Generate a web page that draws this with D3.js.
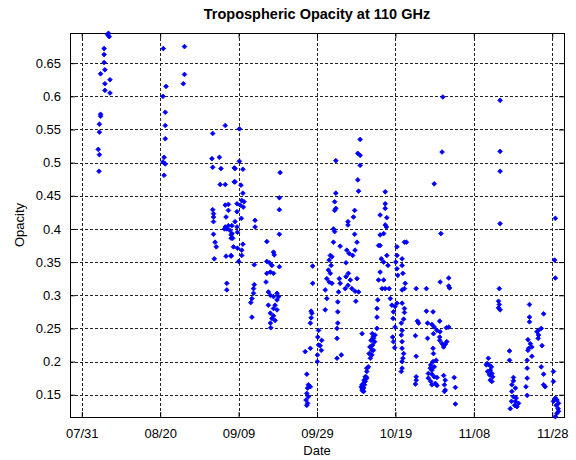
<!DOCTYPE html>
<html>
<head>
<meta charset="utf-8">
<script src="https://cdn.jsdelivr.net/npm/d3@7"></script>
<style>
  body { margin: 0; background: #fff; }
  text { font-family: Arial, "Liberation Sans", sans-serif; fill: #000; }
</style>
</head>
<body>
<div id="viz"></div>
<script>
// tick labels on the date axis and opacity axis
var xTickLabels = ["07/31", "08/20", "09/09", "09/29", "10/19", "11/08", "11/28"];
var yTicks = [0.15, 0.2, 0.25, 0.3, 0.35, 0.4, 0.45, 0.5, 0.55, 0.6, 0.65];

// days after 07/31 for each sample
var dayOffset = [
  6.6, 6.8, 7.0, 5.7, 5.7, 5.7, 4.8, 5.9, 5.9, 7.2, 5.9, 7.2, 4.8, 4.8, 4.5, 4.5, 4.2, 4.5, 4.4,
  20.8, 26.2, 26.2, 25.9, 21.5, 20.7, 21.3, 21.3, 21.3, 21.0, 20.7, 21.3, 21.0,
  36.6, 33.4, 33.2, 35.1, 33.4, 35.5, 38.9, 35.3, 36.6, 38.9, 36.6, 37.4, 33.4, 33.6, 33.6, 33.6,
  36.8, 37.4, 36.6, 37.0, 37.4, 37.8, 36.4, 38.1, 38.1, 33.6, 34.0, 34.3, 33.8, 36.8, 38.1, 38.7,
  37.0, 37.0,
  40.2, 40.2, 39.1, 41.1, 39.1, 40.6, 41.1, 39.6, 40.8, 41.4, 41.2, 40.4, 39.6, 40.7, 39.1, 39.6,
  39.7, 38.3, 38.3, 38.5, 41.1, 40.8, 40.8, 39.7, 40.0, 38.1, 44.2, 44.2, 50.6, 50.4, 50.4, 50.4,
  47.2, 48.9, 49.1, 47.2, 47.9, 48.5, 48.1, 48.9, 47.2, 50.4, 44.0, 47.0, 44.0, 43.8, 43.8, 43.4,
  43.1, 43.4, 47.6, 48.1, 48.9, 49.8, 50.2, 49.8, 49.3, 47.6, 48.9, 49.8, 48.1, 48.9, 48.5, 49.3,
  48.1, 48.2, 58.9, 58.9, 58.5, 58.7, 58.5, 58.3, 57.0, 58.3, 57.4, 57.8, 57.6, 58.3, 57.4, 57.8,
  57.2, 57.6, 57.4, 60.4, 60.2, 60.4, 60.1, 60.1,
  71.0, 70.4, 71.0, 71.0, 70.4, 70.6, 64.8, 64.8, 64.5, 64.8, 64.5, 64.2, 64.5, 64.2, 65.9, 67.9,
  67.9, 69.6, 69.3, 69.6, 67.6, 68.2, 70.2, 69.7, 69.1, 67.4, 63.4, 63.8, 63.1, 63.6, 62.9, 63.4,
  62.5, 63.1, 63.8, 65.7, 65.9, 68.0, 67.4, 68.5, 67.9, 68.9, 67.2, 70.2, 69.7, 70.6, 62.1, 62.5,
  62.1, 65.5, 65.3, 65.3, 65.3, 65.1, 65.1, 69.9, 71.5, 66.2, 65.1, 61.2, 60.8, 61.1,
  75.3, 74.8, 74.7, 74.2, 74.4, 74.0, 73.6, 74.4, 73.6, 74.1, 73.8, 73.5, 74.3, 73.3, 74.0,
  73.1, 72.7, 72.5, 72.3, 72.1, 71.9, 71.5, 71.9, 71.5, 72.7, 72.0, 72.7, 72.3, 71.9, 71.5, 71.8, 71.3,
  77.4, 77.4, 77.4, 76.1, 77.8, 77.4, 77.7, 76.1, 77.0, 76.1, 75.7, 76.4, 77.0, 77.8, 78.1, 76.1,
  75.7, 77.0, 76.6, 77.4, 75.5, 75.3, 75.3, 78.4, 78.7, 79.1, 79.5, 79.9, 80.4, 79.4, 79.9, 79.3,
  79.5, 79.8, 80.4, 80.4, 80.1, 80.4, 80.6, 82.3,
  92.1, 91.9, 89.9, 91.6, 82.8, 81.7, 81.7, 81.9, 82.5, 82.3, 81.7, 81.7, 82.3, 82.3, 82.1, 81.5,
  81.7, 81.5, 81.7, 81.7, 82.1, 81.9, 81.7, 81.7, 81.5, 85.3, 87.9, 91.4, 93.6, 93.6, 93.8, 87.9,
  89.6, 85.6, 85.9, 88.2, 89.3, 91.3, 89.9, 93.0, 93.6, 85.1, 88.2, 89.7, 90.6, 91.4, 91.3, 91.3,
  91.9, 92.7, 92.3, 93.1, 89.6, 89.7, 85.3, 90.4, 89.6, 89.0, 88.9, 89.3, 89.9, 88.4, 89.3, 89.9,
  90.6, 88.4, 89.0, 90.2, 89.3, 90.6, 85.3, 85.3, 85.1, 92.3, 92.7, 92.5, 92.7, 92.5, 95.0, 95.3,
  95.3, 103.7, 103.2, 103.5, 104.0, 104.2,
  106.7, 106.7, 106.7, 106.7, 106.5, 106.3, 106.5, 106.3, 106.7, 120.8, 120.6, 120.8, 114.2, 114.2,
  114.2, 117.8, 116.5, 116.1, 116.5, 116.4, 117.2, 113.8, 114.4, 114.0, 114.8, 113.8, 114.8, 117.4,
  109.1, 109.1, 103.4, 103.9, 104.5, 104.2, 104.6, 104.8, 104.6, 110.1, 110.1, 109.7, 110.6, 109.7,
  110.1, 109.6, 110.6, 111.0, 109.3, 110.4, 111.4, 110.8, 113.6, 113.6, 113.6, 113.3, 113.6, 117.2,
  117.8, 117.8, 118.2, 120.3, 120.3, 120.8, 121.2, 121.6, 121.5, 121.2, 120.8, 120.3, 121.6, 121.0
];

// measured opacity for each sample
var opacity = [
  0.693, 0.695, 0.690, 0.672, 0.663, 0.651, 0.634, 0.640, 0.619, 0.625, 0.609, 0.605, 0.573, 0.570, 0.558, 0.546, 0.520, 0.512, 0.487,
  0.672, 0.675, 0.633, 0.619, 0.615, 0.600, 0.576, 0.556, 0.536, 0.508, 0.501, 0.498, 0.481,
  0.556, 0.544, 0.506, 0.508, 0.493, 0.491, 0.492, 0.467, 0.467, 0.471, 0.436, 0.437, 0.429, 0.423, 0.418, 0.411,
  0.418, 0.428, 0.403, 0.400, 0.405, 0.398, 0.400, 0.391, 0.386, 0.392, 0.380, 0.373, 0.355, 0.359, 0.359, 0.373,
  0.318, 0.308,
  0.551, 0.502, 0.491, 0.490, 0.471, 0.466, 0.454, 0.438, 0.443, 0.441, 0.433, 0.436, 0.426, 0.416, 0.411, 0.403,
  0.395, 0.405, 0.393, 0.386, 0.377, 0.368, 0.360, 0.371, 0.351, 0.360, 0.413, 0.403, 0.485, 0.447, 0.429, 0.392,
  0.381, 0.365, 0.361, 0.351, 0.349, 0.345, 0.335, 0.333, 0.333, 0.343, 0.346, 0.320, 0.316, 0.310, 0.303, 0.295,
  0.289, 0.267, 0.305, 0.300, 0.298, 0.303, 0.298, 0.293, 0.285, 0.285, 0.280, 0.278, 0.273, 0.269, 0.265, 0.262,
  0.258, 0.251, 0.344, 0.318, 0.276, 0.273, 0.266, 0.258, 0.215, 0.220, 0.181, 0.165, 0.160, 0.162, 0.152, 0.147,
  0.142, 0.137, 0.134, 0.247, 0.237, 0.225, 0.210, 0.200,
  0.535, 0.514, 0.511, 0.496, 0.474, 0.457, 0.503, 0.454, 0.441, 0.431, 0.428, 0.400, 0.396, 0.380, 0.374, 0.411,
  0.406, 0.428, 0.418, 0.392, 0.368, 0.363, 0.380, 0.368, 0.360, 0.349, 0.360, 0.358, 0.353, 0.345, 0.338, 0.333,
  0.325, 0.320, 0.318, 0.325, 0.318, 0.333, 0.328, 0.323, 0.315, 0.310, 0.310, 0.325, 0.306, 0.305, 0.308, 0.295,
  0.278, 0.305, 0.290, 0.275, 0.258, 0.250, 0.235, 0.291, 0.242, 0.210, 0.205, 0.232, 0.224, 0.217,
  0.250, 0.240, 0.230, 0.225, 0.217, 0.210, 0.205, 0.235, 0.222, 0.242, 0.232, 0.222, 0.237, 0.212, 0.217,
  0.192, 0.185, 0.177, 0.170, 0.165, 0.160, 0.157, 0.155, 0.165, 0.175, 0.172, 0.190, 0.177, 0.167, 0.160, 0.155, 0.162,
  0.456, 0.438, 0.431, 0.421, 0.417, 0.406, 0.403, 0.391, 0.393, 0.375, 0.375, 0.355, 0.350, 0.360, 0.345, 0.335,
  0.323, 0.323, 0.310, 0.310, 0.293, 0.280, 0.267, 0.310, 0.295, 0.285, 0.275, 0.283, 0.288, 0.265, 0.252, 0.237,
  0.230, 0.221, 0.373, 0.360, 0.350, 0.340, 0.330, 0.380,
  0.599, 0.516, 0.468, 0.393, 0.380, 0.355, 0.345, 0.333, 0.318, 0.310, 0.308, 0.288, 0.280, 0.274, 0.264, 0.258,
  0.247, 0.240, 0.230, 0.220, 0.212, 0.205, 0.200, 0.190, 0.185, 0.310, 0.310, 0.320, 0.326, 0.314, 0.311, 0.276,
  0.275, 0.261, 0.258, 0.258, 0.256, 0.261, 0.252, 0.251, 0.252, 0.239, 0.235, 0.242, 0.247, 0.245, 0.237, 0.232,
  0.227, 0.226, 0.222, 0.230, 0.220, 0.212, 0.208, 0.202, 0.200, 0.195, 0.190, 0.187, 0.192, 0.182, 0.181, 0.177,
  0.176, 0.175, 0.170, 0.167, 0.165, 0.164, 0.177, 0.172, 0.166, 0.179, 0.172, 0.165, 0.157, 0.155, 0.176, 0.161,
  0.136, 0.205, 0.195, 0.185, 0.180, 0.172,
  0.594, 0.517, 0.487, 0.408, 0.310, 0.291, 0.286, 0.281, 0.278, 0.416, 0.353, 0.326, 0.286, 0.267,
  0.260, 0.272, 0.247, 0.245, 0.240, 0.235, 0.250, 0.233, 0.227, 0.220, 0.222, 0.217, 0.208, 0.224,
  0.216, 0.202, 0.197, 0.195, 0.192, 0.187, 0.182, 0.177, 0.170, 0.176, 0.171, 0.165, 0.160, 0.155,
  0.147, 0.140, 0.140, 0.132, 0.129, 0.134, 0.137, 0.145, 0.202, 0.190, 0.175, 0.162, 0.149, 0.192,
  0.181, 0.165, 0.162, 0.185, 0.170, 0.145, 0.142, 0.137, 0.129, 0.122, 0.117, 0.140, 0.125, 0.134
];

var parseDay = d3.utcParse("%m/%d/%Y");
var startDate = parseDay(xTickLabels[0] + "/2009");
function dayToDate(d) { return new Date(startDate.getTime() + d * 864e5); }

var data = dayOffset.map(function(d, i) { return { date: dayToDate(d), value: opacity[i] }; });

// plot box in page pixels
var margin = {top: 33, right: 12, bottom: 43, left: 70},
    W = 576, H = 460,
    width = W - margin.left - margin.right,
    height = H - margin.top - margin.bottom;

var svg = d3.select("#viz").append("svg")
    .attr("width", W)
    .attr("height", H)
    .style("background", "#fff");

var g = svg.append("g")
    .attr("transform", "translate(" + margin.left + "," + margin.top + ")");

var x = d3.scaleUtc()
    .domain([dayToDate(-3), dayToDate(123)])
    .range([0, width]);

var y = d3.scaleLinear()
    .domain([0.1164, 0.6955])
    .range([height, 0]);

var xTickDates = xTickLabels.map(function(s) { return parseDay(s + "/2009"); });
var fmtDate = d3.utcFormat("%m/%d");

// dashed grid
g.append("g").selectAll("line").data(xTickDates).enter().append("line")
    .attr("x1", function(d) { return Math.round(x(d)) + 0.5; })
    .attr("x2", function(d) { return Math.round(x(d)) + 0.5; })
    .attr("y1", 0).attr("y2", height)
    .attr("stroke", "#222").attr("stroke-dasharray", "3,2");
g.append("g").selectAll("line").data(yTicks).enter().append("line")
    .attr("y1", function(d) { return Math.round(y(d)) + 0.5; })
    .attr("y2", function(d) { return Math.round(y(d)) + 0.5; })
    .attr("x1", 0).attr("x2", width)
    .attr("stroke", "#222").attr("stroke-dasharray", "3,2");

// axes with inward ticks
var xAxis = g.append("g")
    .attr("transform", "translate(0," + height + ")")
    .call(d3.axisBottom(x).tickValues(xTickDates).tickFormat(fmtDate).tickSizeInner(-5).tickSizeOuter(0).tickPadding(12));
var yAxis = g.append("g")
    .call(d3.axisLeft(y).tickValues(yTicks).tickFormat(function(d) { return String(d); }).tickSizeInner(-5).tickSizeOuter(0).tickPadding(9));
g.append("g")
    .call(d3.axisTop(x).tickValues(xTickDates).tickFormat("").tickSizeInner(-5).tickSizeOuter(0));
g.append("g")
    .attr("transform", "translate(" + width + ",0)")
    .call(d3.axisRight(y).tickValues(yTicks).tickFormat("").tickSizeInner(-5).tickSizeOuter(0));

g.selectAll(".domain").remove();
g.selectAll(".tick line").attr("stroke", "#000");
g.selectAll(".tick text")
    .style("font-size", "13px")
    .style("font-family", "Arial, 'Liberation Sans', sans-serif")
    .attr("fill", "#000");

// box
g.append("rect")
    .attr("x", 0.5).attr("y", 0.5)
    .attr("width", width).attr("height", height)
    .attr("fill", "none").attr("stroke", "#000");

// samples: small square turned 45 degrees, like the MATLAB dot marker
g.append("g").selectAll("path").data(data).enter().append("path")
    .attr("d", d3.symbol().type(d3.symbolSquare).size(11))
    .attr("transform", function(d) { return "translate(" + x(d.date) + "," + y(d.value) + ") rotate(45)"; })
    .attr("fill", "#0000ff")
    .attr("stroke", "#0000ff")
    .attr("stroke-width", 0.8);

// title and labels
svg.append("text")
    .attr("x", margin.left + width / 2)
    .attr("y", 19)
    .attr("text-anchor", "middle")
    .style("font-size", "14.5px")
    .style("font-weight", "bold")
    .text("Tropospheric Opacity at 110 GHz");

svg.append("text")
    .attr("x", margin.left + width / 2)
    .attr("y", 455)
    .attr("text-anchor", "middle")
    .style("font-size", "13px")
    .text("Date");

svg.append("text")
    .attr("transform", "translate(24," + (margin.top + height / 2) + ") rotate(-90)")
    .attr("text-anchor", "middle")
    .style("font-size", "13px")
    .text("Opacity");
</script>
</body>
</html>
